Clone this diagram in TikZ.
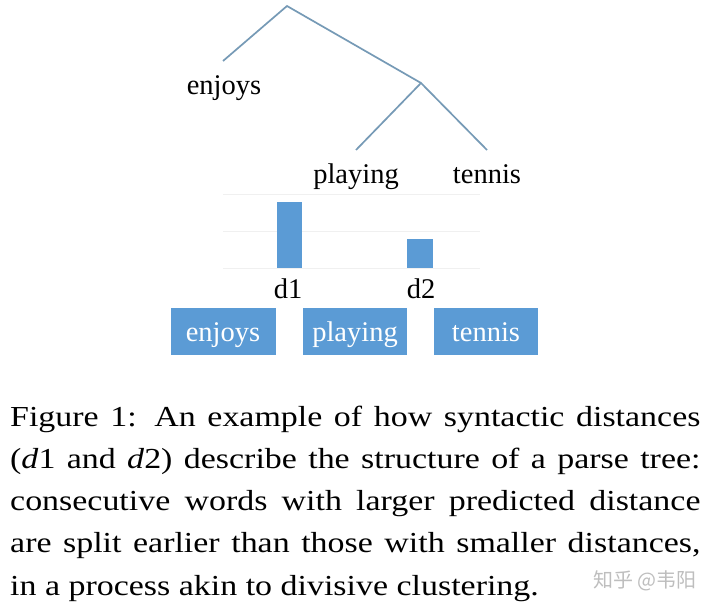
\documentclass[tikz,border=0pt]{standalone}
\usepackage{fontspec}
\setmainfont{Liberation Serif}
\newfontfamily\cjk{Noto Sans CJK SC}
\definecolor{barblue}{RGB}{91,155,213}
\definecolor{treeline}{RGB}{118,154,182}
\definecolor{gridgray}{RGB}{240,240,240}
\definecolor{wmgray}{RGB}{190,190,190}
\begin{document}
\begin{tikzpicture}[x=1pt,y=-1pt,
  branch/.style={draw=treeline,line width=1.7pt},
  word/.style={font=\fontsize{28.5}{30}\selectfont,anchor=base,inner sep=0pt},
  wordbox/.style={fill=barblue,draw=none},
  boxtext/.style={font=\fontsize{28.5}{30}\selectfont,text=white,anchor=base,inner sep=0pt},
  bar/.style={fill=barblue,draw=none},
  gridline/.style={draw=gridgray,line width=0.8pt}]
\useasboundingbox (0,0) rectangle (720,610);
\fill[white] (0,0) rectangle (720,610);
% tree
\coordinate (root) at (287,6);
\coordinate (lft) at (223,61);
\coordinate (mid) at (421,83);
\coordinate (pl) at (356,150);
\coordinate (tn) at (487,150);
\draw[branch] (lft) -- (root) -- (mid);
\draw[branch] (pl) -- (mid) -- (tn);
\node[word] (tEnjoys) at (224,94) {enjoys};
\node[word] (tPlaying) at (356,183) {playing};
\node[word] (tTennis) at (487,183) {tennis};
% grid lines
\draw[gridline] (223,194) -- (480,194);
\draw[gridline] (223,231) -- (480,231);
\draw[gridline] (223,268) -- (480,268);
% bars
\fill[bar] (277,202) rectangle (302,268);
\fill[bar] (407,239) rectangle (433,268);
\node[word] (dOne) at (288,298) {d1};
\node[word] (dTwo) at (421,298) {d2};
% word boxes
\fill[wordbox] (171,308) rectangle (276,355);
\fill[wordbox] (303,308) rectangle (407,355);
\fill[wordbox] (434,308) rectangle (538,355);
\node[boxtext] (bEnjoys) at (223,341) {enjoys};
\node[boxtext] (bPlaying) at (355,341) {playing};
\node[boxtext] (bTennis) at (486,341) {tennis};
% caption
\node[anchor=base west,inner sep=0pt] (caption) at (10,426) {\scalebox{1.17}[1]{\parbox[t]{590pt}{\fontsize{29}{42.3}\selectfont\hbadness=10000\noindent
Figure 1: An example of how syntactic distances\linebreak
(\textit{d}1 and \textit{d}2) describe the structure of a parse tree:\linebreak
consecutive words with larger predicted distance\linebreak
are split earlier than those with smaller distances,\linebreak
in a process akin to divisive clustering.}}};
\node[font=\cjk\fontsize{20}{22}\selectfont,text=wmgray,inner sep=0pt] (wm) at (645,581) {知乎 @韦阳};
\end{tikzpicture}
\end{document}
